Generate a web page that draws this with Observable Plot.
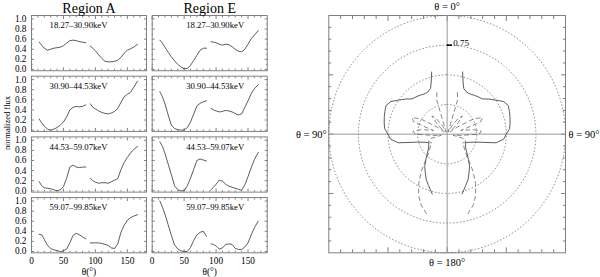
<!DOCTYPE html>
<html>
<head>
<meta charset="utf-8">
<script src="https://cdn.jsdelivr.net/npm/d3@7"></script>
<script src="https://cdn.jsdelivr.net/npm/@observablehq/plot@0.6"></script>
<style>
  body { margin: 0; background: white; }
  #wrap { position: relative; width: 600px; height: 277px; background: white; overflow: hidden; }
  #left { position: absolute; left: 0; top: 0; }
  #right { position: absolute; left: 290px; top: 0; }
  #ylab { position: absolute; left: 7px; top: 123px; transform: translate(-50%, -50%) rotate(-90deg);
          font: 8.5px "Liberation Serif", serif; white-space: nowrap; color: #000; }
  svg text { font-family: "Liberation Serif", serif; }
</style>
</head>
<body>
<div id="wrap">
  <div id="left"></div>
  <div id="right"></div>
  <div id="ylab">normalized flux</div>
</div>
<script>
// ---------- data ----------
const regions = ["Region A", "Region E"];
const bands = ["18.27–30.90keV", "30.90–44.53keV", "44.53–59.07keV", "59.07–99.85keV"];
const angles = [12,16,20,25,30,35,40,45,50,55,60,65,70,75,80,85, 92,96,100,105,110,115,120,125,130,135,140,145,150,155,160,166];

const fluxA1 = [.54,.48,.42,.38,.40,.42,.43,.44,.47,.52,.57,.58,.57,.55,.54,.53, .46,.42,.37,.29,.22,.16,.15,.15,.16,.18,.24,.32,.38,.41,.44,.50];
const fluxA2 = [.22,.14,.08,.02,.00,.02,.05,.10,.16,.26,.40,.45,.47,.46,.47,.50, .52,.45,.42,.38,.35,.33,.32,.34,.37,.43,.55,.66,.71,.75,.85,.97];
const fluxA3 = [.18,.10,.06,.05,.04,.02,.00,.02,.08,.25,.47,.51,.47,.46,.47,.47, .25,.20,.17,.15,.16,.16,.15,.18,.21,.24,.42,.56,.66,.75,.82,.88];
const fluxA4 = [.34,.33,.24,.12,.06,.03,.02,.00,.01,.05,.17,.32,.36,.33,.29,.25, .17,.17,.17,.17,.16,.14,.12,.07,.06,.15,.38,.52,.62,.67,.70,.73];
const fluxE1 = [.58,.52,.44,.34,.25,.17,.10,.05,.01,.02,.08,.18,.28,.38,.42,.42, .55,.54,.53,.50,.48,.50,.49,.45,.40,.36,.35,.40,.50,.61,.68,.77];
const fluxE2 = [.76,.66,.52,.30,.10,.03,.01,.00,.00,.05,.16,.32,.48,.53,.56,.58, .43,.40,.38,.36,.37,.39,.38,.36,.33,.30,.32,.45,.58,.72,.82,.90];
const fluxE3 = [.97,.88,.74,.53,.32,.10,.02,.00,.00,.10,.25,.43,.60,.63,.61,.59, .02,.07,.13,.21,.19,.13,.09,.07,.05,.03,.01,.12,.28,.46,.62,.76];
const fluxE4 = [1.0,.88,.74,.53,.32,.13,.05,.01,.00,.00,.08,.22,.33,.38,.40,.30, .15,.14,.11,.05,.07,.14,.15,.14,.06,.04,.04,.09,.17,.33,.47,.60];

const xTickLabels = [0, 50, 100, 150];
const xMinorTicks = [10,20,30,40,60,70,80,90,110,120,130,140,160,170];
const yTickLabels = [0, 0.2, 0.4, 0.6, 0.8, 1.0];
const yMinorTicks = [0.1, 0.3, 0.5, 0.7, 0.9];

// polar panel (right side, mirrored to the left)
const polarAngles = [14,17,20,25,30,35,40,45,50,55,60,65,70,75,80,85,90,95,100,105,110,115,120,125,130,135,140,145,150,155,160,166];
const polarSolid  = [.54,.46,.41,.39,.39,.40,.41,.42,.46,.50,.55,.57,.56,.55,.54,.53,.50,.48,.42,.26,.20,.17,.18,.19,.21,.24,.28,.33,.37,.42,.46,.52];
const polarDashed = [.36,.30,.05,.02,.08,.16,.20,.12,.03,.10,.26,.33,.30,.12,.22,.29,.27,.12,.05,.14,.17,.16,.15,.17,.19,.22,.28,.38,.48,.57,.64,.70];
const circleRadii = [0.25, 0.5, 0.75, 1.0];
const radiusLabel = [0.75];
const polarMinorTicks = [-0.9,-0.8,-0.7,-0.6,-0.4,-0.3,-0.2,-0.1,0.1,0.2,0.3,0.4,0.6,0.7,0.8,0.9];
const polarMajorTicks = [-0.5, 0, 0.5];

// ---------- build tables ----------
const series = {
  "Region A": [fluxA1, fluxA2, fluxA3, fluxA4],
  "Region E": [fluxE1, fluxE2, fluxE3, fluxE4]
};
const rows = [];
for (const region of regions) {
  series[region].forEach((vals, bi) => {
    vals.forEach((v, i) => rows.push({region, band: bands[bi], theta: angles[i], v, seg: angles[i] < 90 ? 1 : 2}));
  });
}
const bandLabels = [];
for (const region of regions) for (const band of bands) bandLabels.push({region, band});

const FONT = '"Liberation Serif", serif';
const INK = "#333";
const FRAME = "#808080";

const left = Plot.plot({
  width: 290, height: 277,
  marginLeft: 31, marginRight: 23.3, marginTop: 15, marginBottom: 24.7,
  style: {fontFamily: FONT, fontSize: "9.3px", color: "#000", background: "white", overflow: "visible"},
  fx: {domain: regions, paddingInner: 0.047, paddingOuter: 0, round: false, label: null},
  fy: {domain: bands, paddingInner: 0.09, paddingOuter: 0, round: false, label: null, axis: null},
  x: {domain: [0, 180]},
  y: {domain: [-0.026, 1.068]},
  marks: [
    Plot.axisX(xTickLabels, {anchor: "bottom", tickSize: -3, tickFormat: () => "", facetAnchor: null, stroke: FRAME, label: null}),
    Plot.axisX(xTickLabels, {anchor: "top", tickSize: -3, tickFormat: () => "", facetAnchor: null, stroke: FRAME, label: null}),
    Plot.axisX(xMinorTicks, {anchor: "bottom", tickSize: -1.5, tickFormat: () => "", facetAnchor: null, stroke: FRAME, label: null}),
    Plot.axisX(xMinorTicks, {anchor: "top", tickSize: -1.5, tickFormat: () => "", facetAnchor: null, stroke: FRAME, label: null}),
    Plot.axisY(yTickLabels, {anchor: "left", tickSize: -3, tickFormat: () => "", facetAnchor: null, stroke: FRAME, label: null}),
    Plot.axisY(yTickLabels, {anchor: "right", tickSize: -3, tickFormat: () => "", facetAnchor: null, stroke: FRAME, label: null}),
    Plot.axisY(yMinorTicks, {anchor: "left", tickSize: -1.5, tickFormat: () => "", facetAnchor: null, stroke: FRAME, label: null}),
    Plot.axisY(yMinorTicks, {anchor: "right", tickSize: -1.5, tickFormat: () => "", facetAnchor: null, stroke: FRAME, label: null}),
    Plot.frame({stroke: FRAME}),
    Plot.line(rows, {x: "theta", y: "v", z: "seg", fx: "region", fy: "band", stroke: INK, strokeWidth: 0.8}),
    Plot.text(bandLabels.filter(d => d.region === regions[0]), {fx: "region", fy: "band", text: "band", frameAnchor: "top", lineAnchor: "middle", dy: 10, dx: -10.5, fontSize: 8.7, fontFamily: FONT, fill: "#000"}),
    Plot.text(bandLabels.filter(d => d.region === regions[1]), {fx: "region", fy: "band", text: "band", frameAnchor: "top", lineAnchor: "middle", dy: 10, dx: 5.5, fontSize: 8.7, fontFamily: FONT, fill: "#000"}),
    Plot.text(regions, {fx: d => d, fy: () => bands[bands.length - 1], text: () => "θ(°)", frameAnchor: "bottom", lineAnchor: "middle", dy: 19.5, fontSize: 9.3, fontFamily: FONT, fill: "#000"}),
    Plot.axisFx({anchor: "top", label: null, tickSize: 0, tickPadding: 3, fontSize: 14, fontFamily: FONT}),
    Plot.axisY(yTickLabels, {anchor: "left", tickSize: 0, tickPadding: 5, tickFormat: ".1f", label: null, fontFamily: FONT}),
    Plot.axisX(xTickLabels, {anchor: "bottom", tickSize: 0, tickPadding: 4.5, tickFormat: d => String(d), label: null, fontFamily: FONT})
  ]
});
document.getElementById("left").appendChild(left);

// ---------- polar ----------
function toXY(vals, side) {
  return polarAngles.map((a, i) => {
    const t = a * Math.PI / 180;
    return {x: side * vals[i] * Math.sin(t), y: vals[i] * Math.cos(t), side};
  });
}
const solidRows = [...toXY(polarSolid, 1), ...toXY(polarSolid, -1)];
const dashedRows = [...toXY(polarDashed, 1), ...toXY(polarDashed, -1)];
const circleRows = [];
for (const r of circleRadii) for (let a = 0; a <= 360; a += 2) {
  const t = a * Math.PI / 180;
  circleRows.push({r, x: r * Math.sin(t), y: r * Math.cos(t)});
}

const right = Plot.plot({
  width: 310, height: 277,
  marginLeft: 38.3, marginRight: 35, marginTop: 15, marginBottom: 24.7,
  style: {fontFamily: FONT, fontSize: "10.5px", color: "#000", background: "white", overflow: "visible"},
  x: {domain: [-1, 1]},
  y: {domain: [-1, 1]},
  marks: [
    Plot.axisX(polarMinorTicks, {anchor: "bottom", tickSize: -3, tickFormat: () => "", stroke: FRAME, label: null}),
    Plot.axisX(polarMinorTicks, {anchor: "top", tickSize: -3, tickFormat: () => "", stroke: FRAME, label: null}),
    Plot.axisY(polarMinorTicks, {anchor: "left", tickSize: -3, tickFormat: () => "", stroke: FRAME, label: null}),
    Plot.axisY(polarMinorTicks, {anchor: "right", tickSize: -3, tickFormat: () => "", stroke: FRAME, label: null}),
    Plot.axisX(polarMajorTicks, {anchor: "bottom", tickSize: -5, tickFormat: () => "", stroke: FRAME, label: null}),
    Plot.axisX(polarMajorTicks, {anchor: "top", tickSize: -5, tickFormat: () => "", stroke: FRAME, label: null}),
    Plot.axisY(polarMajorTicks, {anchor: "left", tickSize: -5, tickFormat: () => "", stroke: FRAME, label: null}),
    Plot.axisY(polarMajorTicks, {anchor: "right", tickSize: -5, tickFormat: () => "", stroke: FRAME, label: null}),
    Plot.frame({stroke: FRAME}),
    Plot.line(circleRows, {x: "x", y: "y", z: "r", stroke: "#777", strokeWidth: 0.8, strokeDasharray: "0.8,2.6"}),
    Plot.ruleX([0], {stroke: "#999"}),
    Plot.ruleY([0], {stroke: "#999"}),
    Plot.line(solidRows, {x: "x", y: "y", z: "side", stroke: INK, strokeWidth: 0.8}),
    Plot.line(dashedRows, {x: "x", y: "y", z: "side", stroke: "#555", strokeWidth: 0.7, strokeDasharray: "4,3.5"}),
    Plot.ruleY(radiusLabel, {x1: 0, x2: 0.045, stroke: "#000", strokeWidth: 1.6}),
    Plot.text(radiusLabel, {x: 0, y: d => d, text: d => d.toFixed(2), textAnchor: "start", dx: 6, dy: -2, fontSize: 9, fontFamily: FONT, fill: "#000"}),
    Plot.text(["θ = 0°"], {text: d => d, frameAnchor: "top", lineAnchor: "middle", dy: -9, fontFamily: FONT, fill: "#000"}),
    Plot.text(["θ = 180°"], {text: d => d, frameAnchor: "bottom", lineAnchor: "middle", dy: 9.5, fontFamily: FONT, fill: "#000"}),
    Plot.text(["θ = 90°"], {text: d => d, frameAnchor: "left", textAnchor: "end", dx: -2, fontFamily: FONT, fill: "#000"}),
    Plot.text(["θ = 90°"], {text: d => d, frameAnchor: "right", textAnchor: "start", dx: 3, fontFamily: FONT, fill: "#000"})
  ]
});
document.getElementById("right").appendChild(right);
</script>
</body>
</html>
